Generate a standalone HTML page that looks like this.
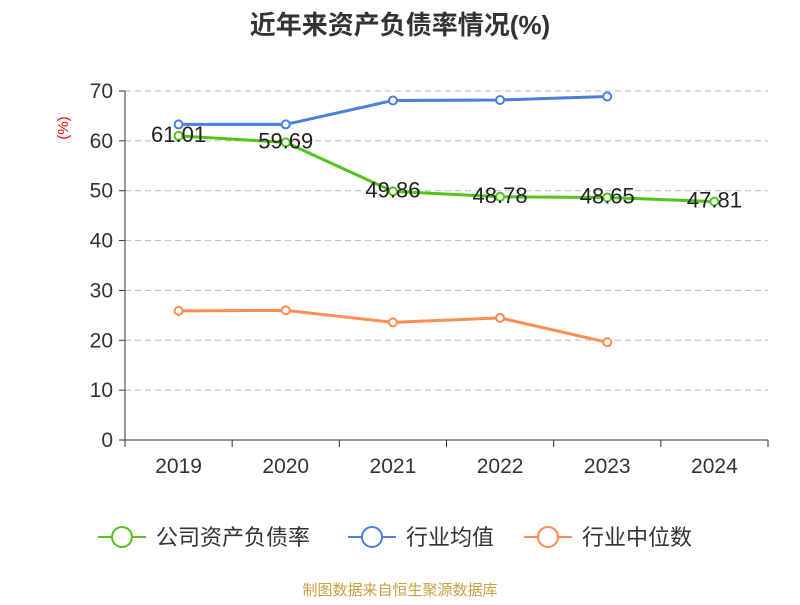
<!DOCTYPE html>
<html><head><meta charset="utf-8"><style>
body{margin:0;background:#fff;}
text{font-family:"Liberation Sans","Noto Sans CJK SC",sans-serif;}
</style></head><body>
<svg id="c" width="800" height="600" xmlns="http://www.w3.org/2000/svg">
<text x="400" y="34" text-anchor="middle" font-size="26" font-weight="bold" fill="#333">近年来资产负债率情况(%)</text>
<text x="0" y="0" transform="translate(68,128) rotate(-90)" text-anchor="middle" font-size="15" fill="#e00">(%)</text>
<g id="grid"></g><g id="axes"></g><g id="series"></g>
<g>
<g><line x1="98" y1="537" x2="146" y2="537" stroke="#52c41a" stroke-width="2"/><circle cx="122" cy="537" r="10" fill="#fff" stroke="#52c41a" stroke-width="2"/><text x="156" y="545" font-size="22" fill="#333">公司资产负债率</text></g>
<g><line x1="348" y1="537" x2="396" y2="537" stroke="#4a7fdc" stroke-width="2"/><circle cx="372" cy="537" r="10" fill="#fff" stroke="#4a7fdc" stroke-width="2"/><text x="406" y="545" font-size="22" fill="#333">行业均值</text></g>
<g><line x1="524" y1="537" x2="572" y2="537" stroke="#ff8c50" stroke-width="2"/><circle cx="548" cy="537" r="10" fill="#fff" stroke="#ff8c50" stroke-width="2"/><text x="582" y="545" font-size="22" fill="#333">行业中位数</text></g>
</g>
<text x="400" y="595" text-anchor="middle" font-size="15" fill="#c8a040">制图数据来自恒生聚源数据库</text>
</svg>
<script>
const categories=["2019","2020","2021","2022","2023","2024"];
const companyValues=[61.01,59.69,49.86,48.78,48.65,47.81];
const averageValues=[63.3,63.3,68.1,68.2,68.9];
const medianValues=[25.9,26.0,23.6,24.5,19.6];
const yTicks=[0,10,20,30,40,50,60,70];
const NS="http://www.w3.org/2000/svg";
const x0=125,x1=768,y0=440,y1=91,yMax=70;
const band=(x1-x0)/categories.length;
const xs=i=>x0+band*(i+0.5);
const ys=v=>y0-(v/yMax)*(y0-y1);
function mk(p,tag,a){const e=document.createElementNS(NS,tag);for(const k in a)e.setAttribute(k,a[k]);p.appendChild(e);return e;}
const grid=document.getElementById('grid'),axes=document.getElementById('axes'),ser=document.getElementById('series');
yTicks.forEach(t=>{
 if(t>0){const g=mk(grid,'line',{x1:x0,x2:x1,y1:ys(t),y2:ys(t),stroke:'#bbb','stroke-dasharray':'6,4'});
 }
 const tk=mk(axes,'line',{x1:x0-6,x2:x0,y1:ys(t),y2:ys(t),stroke:'#333'});
 
 const l=mk(axes,'text',{x:x0-12,y:ys(t)+7,'text-anchor':'end','font-size':21,fill:'#333'});l.textContent=t;
 
});
const ya=mk(axes,'line',{x1:x0,x2:x0,y1:y1,y2:y0,stroke:'#333'});
const xa=mk(axes,'line',{x1:x0,x2:x1,y1:y0,y2:y0,stroke:'#333'});
for(let i=0;i<=categories.length;i++){const t=mk(axes,'line',{x1:x0+band*i,x2:x0+band*i,y1:y0,y2:y0+7,stroke:'#333'});
 }
categories.forEach((c,i)=>{const l=mk(axes,'text',{x:xs(i),y:473,'text-anchor':'middle','font-size':21,fill:'#333'});l.textContent=c;
 });
function line(vals,color,name,labels){
 const g=mk(ser,'g',{});
 const p=mk(g,'polyline',{points:vals.map((v,i)=>xs(i)+','+ys(v)).join(' '),fill:'none',stroke:color,'stroke-width':3});
 
 vals.forEach((v,i)=>{const c=mk(g,'circle',{cx:xs(i),cy:ys(v),r:4,fill:'#fff',stroke:color,'stroke-width':2});
  
  if(labels){const t=mk(g,'text',{x:xs(i),y:ys(v)+6,'text-anchor':'middle','font-size':22,fill:'#222'});t.textContent=v.toFixed(2);
   }});
}
line(averageValues,'#4a7fdc','average-series',false);
line(medianValues,'#ff8c50','median-series',false);
line(companyValues,'#52c41a','company-series',true);
</script>
</body></html>
